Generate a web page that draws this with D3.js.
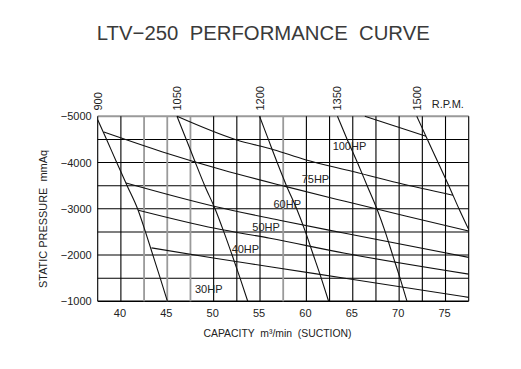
<!DOCTYPE html>
<html>
<head>
<meta charset="utf-8">
<script src="https://cdn.jsdelivr.net/npm/d3@7"></script>
<style>
  html, body { margin: 0; padding: 0; background: #fff; }
  svg { display: block; }
  text { font-family: "Liberation Sans", Arial, sans-serif; }
</style>
</head>
<body>
<svg id="chart" width="521" height="369"></svg>
<script>
// ---------- DATA ----------
const title = "LTV\u2212250  PERFORMANCE  CURVE";
const xTicks = [40, 45, 50, 55, 60, 65, 70, 75];
const yTicks = [-5000, -4000, -3000, -2000, -1000];
const xGridValues = [37.5, 40, 42.5, 45, 47.5, 50, 52.5, 55, 57.5, 60, 62.5, 65, 67.5, 70, 72.5, 75, 77.5];
const yGridValues = [-5000, -4500, -4000, -3500, -3000, -2500, -2000, -1500, -1000];
const lightGridValues = [42.5, 45, 47.5, 57.5];

// constant-speed curves: [capacity m3/min, static pressure mmAq]
const rpmNames = ["900", "1050", "1200", "1350", "1500"];
const rpm900  = [[37.5,-4927],[38.46,-4500],[39.55,-4000],[40.67,-3500],[41.8,-3000],[42.65,-2500],[43.45,-2000],[44.24,-1500],[45.02,-1000]];
const rpm1050 = [[46.05,-5000],[47.05,-4500],[48.03,-4000],[49.04,-3500],[50.15,-3000],[51.1,-2500],[51.99,-2000],[52.85,-1500],[53.68,-1000]];
const rpm1200 = [[54.95,-5000],[55.9,-4500],[56.85,-4000],[57.85,-3500],[58.95,-3000],[59.9,-2500],[60.75,-2000],[61.6,-1500],[62.4,-1000]];
const rpm1350 = [[63.35,-5000],[64.4,-4500],[65.5,-4000],[66.55,-3500],[67.6,-3000],[68.5,-2500],[69.3,-2000],[70.1,-1500],[70.85,-1000]];
const rpm1500 = [[71.9,-5000],[73.05,-4500],[74.2,-4000],[75.35,-3500],[76.45,-3000],[77.5,-2550]];

// constant-power curves
const hpTop  = [[66.3,-5000],[69.6,-4784],[72.9,-4568]];
const hp100  = [[46.05,-5000],[52.41,-4494],[56.47,-4278],[59.88,-4062],[64.91,-3811],[69.95,-3558],[75.8,-3292]];
const hp75   = [[38.15,-4660],[44.5,-4230],[50.9,-3845],[57.5,-3495],[64.16,-3162],[70.8,-2838],[77.5,-2518]];
const hp60   = [[40.55,-3558],[50.14,-3050],[57.1,-2752],[64.16,-2470],[77.5,-1950]];
const hp50   = [[41.88,-2970],[50.14,-2578],[56.07,-2362],[64.16,-2038],[77.5,-1588]];
const hp40   = [[43.3,-2155],[50.14,-1930],[56.07,-1748],[64.16,-1497],[77.5,-1085]];

// curve labels: [text, capacity, pressure]
const hpLabels = [["100HP",62.83,-4271],["75HP",59.49,-3564],["60HP",56.45,-3011],["50HP",54.17,-2520],["40HP",51.94,-2051],["30HP",47.99,-1173]];

// ---------- CHART ----------
const svg = d3.select("#chart");
const L = 97.7, R = 468.7, T = 116.3, B = 301.3;
const x = d3.scaleLinear().domain([37.5, 77.5]).range([L, R]);
const y = d3.scaleLinear().domain([-5000, -1000]).range([T, B]);

// title
svg.append("text")
  .attr("x", 263.3).attr("y", 40)
  .attr("text-anchor", "middle")
  .attr("font-size", 20.5)
  .attr("fill", "#3a3a3a")
  .attr("textLength", 333).attr("lengthAdjust", "spacingAndGlyphs")
  .style("white-space", "pre")
  .text(title);

// grid
const g = svg.append("g");
g.selectAll("line.h").data(yGridValues).join("line")
  .attr("x1", L).attr("x2", R)
  .attr("y1", d => y(d)).attr("y2", d => y(d))
  .attr("stroke", d => d === -5000 ? "#9a9a9a" : "#000")
  .attr("stroke-width", d => d === -5000 ? 2 : (d === -1000 ? 1.6 : 1.1));
g.selectAll("line.v").data(xGridValues).join("line")
  .attr("x1", d => x(d)).attr("x2", d => x(d))
  .attr("y1", T).attr("y2", B)
  .attr("stroke", d => lightGridValues.includes(d) ? "#9a9a9a" : "#000")
  .attr("stroke-width", d => lightGridValues.includes(d) ? 1.8 : 1.1);

// curves
const line = d3.line().x(d => x(d[0])).y(d => y(d[1])).curve(d3.curveMonotoneX);
const curves = [rpm900, rpm1050, rpm1200, rpm1350, rpm1500, hpTop, hp100, hp75, hp60, hp50, hp40];
svg.append("g").selectAll("path").data(curves).join("path")
  .attr("d", line)
  .attr("fill", "none")
  .attr("stroke", "#111")
  .attr("stroke-width", 1.1);

// HP labels
svg.append("g").selectAll("text").data(hpLabels).join("text")
  .attr("x", d => x(d[1])).attr("y", d => y(d[2]))
  .attr("font-size", 11)
  .attr("fill", "#222")
  .text(d => d[0]);

// RPM labels (rotated, at top of each speed curve)
const rpmCurves = [rpm900, rpm1050, rpm1200, rpm1350, rpm1500];
svg.append("g").selectAll("text").data(rpmNames).join("text")
  .attr("transform", (d, i) => `translate(${x(rpmCurves[i][0][0]) + 4},110.5) rotate(-90)`)
  .attr("font-size", 11)
  .attr("fill", "#222")
  .text(d => d);
svg.append("text")
  .attr("x", 431.7).attr("y", 108.3)
  .attr("font-size", 11)
  .attr("fill", "#222")
  .text("R.P.M.");

// axes
const xAxis = svg.append("g")
  .attr("transform", `translate(0,${B})`)
  .call(d3.axisBottom(x).tickValues(xTicks).tickSize(0).tickPadding(7.5).tickFormat(d3.format("d")));
xAxis.select(".domain").remove();
xAxis.selectAll("text").attr("font-size", 11).attr("fill", "#222").attr("font-family", "Liberation Sans, Arial, sans-serif").attr("dx", -1.5);

const yAxis = svg.append("g")
  .attr("transform", `translate(${L},0)`)
  .call(d3.axisLeft(y).tickValues(yTicks).tickSize(0).tickPadding(6).tickFormat(d => "\u2212" + Math.abs(d)));
yAxis.select(".domain").remove();
yAxis.selectAll("text").attr("font-size", 11).attr("fill", "#222").attr("font-family", "Liberation Sans, Arial, sans-serif");

// axis titles
svg.append("text")
  .attr("x", 277.5).attr("y", 337)
  .attr("text-anchor", "middle")
  .attr("font-size", 11)
  .attr("fill", "#222")
  .attr("textLength", 148).attr("lengthAdjust", "spacingAndGlyphs")
  .style("white-space", "pre")
  .text("CAPACITY  m\u00B3/min  (SUCTION)");

svg.append("text")
  .attr("transform", "translate(47,219) rotate(-90)")
  .attr("text-anchor", "middle")
  .attr("font-size", 11)
  .attr("fill", "#222")
  .attr("textLength", 138).attr("lengthAdjust", "spacingAndGlyphs")
  .style("white-space", "pre")
  .text("STATIC PRESSURE  mmAq");
</script>
</body>
</html>
